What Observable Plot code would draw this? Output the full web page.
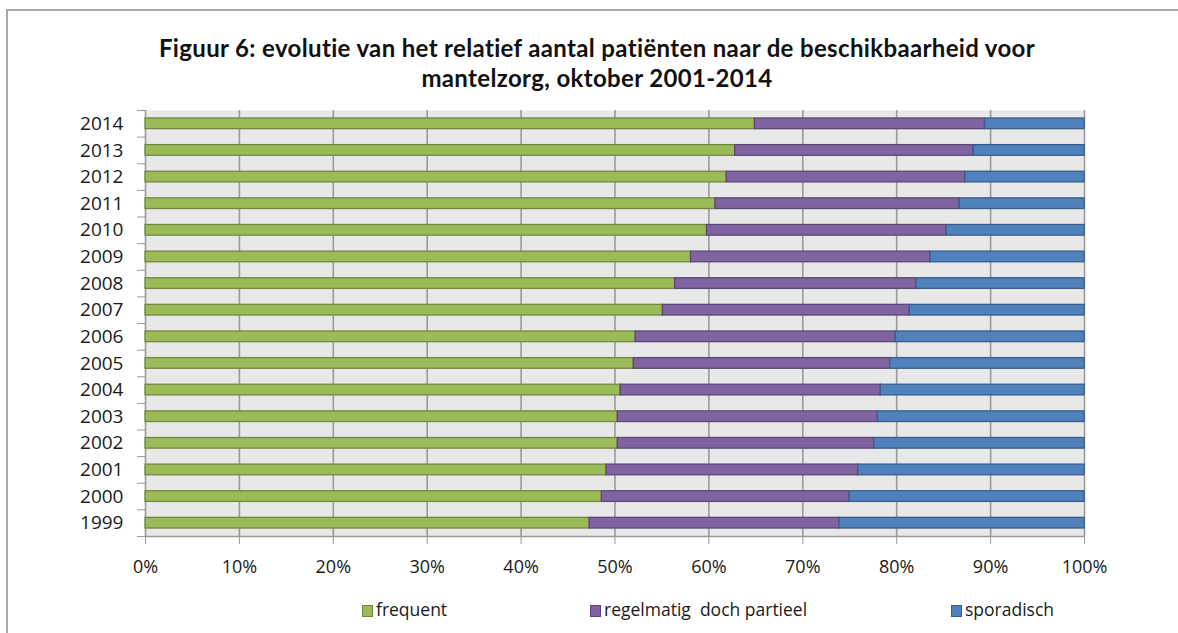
<!DOCTYPE html>
<html>
<head>
<meta charset="utf-8">
<script src="https://cdn.jsdelivr.net/npm/d3@7"></script>
<script src="https://cdn.jsdelivr.net/npm/@observablehq/plot@0.6"></script>
<style>
  html, body { margin: 0; padding: 0; background: #fff; overflow: hidden; }
  #wrap { position: relative; width: 1178px; height: 633px; overflow: hidden; }
  #frame { position: absolute; left: 6px; top: 9px; width: 1200px; height: 700px;
           border-top: 2px solid #a8a8a8; border-left: 2px solid #a8a8a8; }
  #title { position: absolute; left: 8px; top: 33px; width: 1178px; text-align: center;
           font-family: Lato, "Open Sans", sans-serif; font-weight: 700; font-size: 24px;
           letter-spacing: 0.35px; line-height: 30px; color: #111; }
  #chart { position: absolute; left: 0; top: 100px; }
  .leg { position: absolute; top: 597px; font-family: "Open Sans", sans-serif; font-size: 17.5px; color: #1a1a1a;
         white-space: nowrap; }
  .sw { display: inline-block; width: 9px; height: 10px; margin-right: 3px; vertical-align: -1px; border: 1px solid; }
</style>
</head>
<body>
<div id="wrap">
  <div id="frame"></div>
  <div id="title"></div>
  <div id="chart"></div>
  <div id="legend"></div>
</div>
<script>
const titleLines = ["Figuur 6: evolutie van het relatief aantal patiënten naar de beschikbaarheid voor", "mantelzorg, oktober 2001-2014"];
const years = [1999, 2000, 2001, 2002, 2003, 2004, 2005, 2006, 2007, 2008, 2009, 2010, 2011, 2012, 2013, 2014];
const seriesNames = ["frequent", "regelmatig  doch partieel", "sporadisch"];
const frequent   = [47.3, 48.6, 49.1, 50.3, 50.3, 50.6, 52.0, 52.2, 55.1, 56.4, 58.1, 59.8, 60.7, 61.9, 62.8, 64.9];
const regelmatig = [26.6, 26.4, 26.8, 27.3, 27.7, 27.7, 27.3, 27.7, 26.3, 25.7, 25.5, 25.5, 26.0, 25.4, 25.4, 24.5];
const sporadisch = [26.1, 25.0, 24.1, 22.4, 22.0, 21.7, 20.7, 20.1, 18.6, 17.9, 16.4, 14.7, 13.3, 12.7, 11.8, 10.6];
const xTicks = [0, 10, 20, 30, 40, 50, 60, 70, 80, 90, 100];
const fills   = ["#9bbb59", "#8064a2", "#4f81bd"];
const strokes = ["#71893f", "#5c4776", "#385d8a"];

document.getElementById("title").innerHTML = titleLines.join("<br>");

const seriesValues = [frequent, regelmatig, sporadisch];
const rowsBySeries = seriesValues.map(() => []);
years.forEach((year, i) => {
  let start = 0;
  seriesValues.forEach((vals, s) => {
    rowsBySeries[s].push({year, series: seriesNames[s], x1: start, x2: start + vals[i]});
    start += vals[i];
  });
});
const half = 0.2;
const boundaries = years.map(y => y - 0.5).concat([years[years.length - 1] + 0.5]);

const chart = Plot.plot({
  width: 1178,
  height: 490,
  marginLeft: 145,
  marginRight: 94,
  marginTop: 10,
  marginBottom: 54,
  x: {domain: [0, 100]},
  y: {domain: [years[0] - 0.5, years[years.length - 1] + 0.5]},
  style: {fontFamily: "'Open Sans', sans-serif", fontSize: "18px", color: "#1a1a1a", background: "transparent", overflow: "visible"},
  marks: [
    Plot.frame({fill: "#e8e8e8", stroke: null}),
    Plot.ruleX(xTicks, {stroke: "#9a9a9a", strokeWidth: 1.6, strokeOpacity: 1}),
    Plot.ruleY([years[0] - 0.5], {stroke: "#9a9a9a", strokeWidth: 1.6}),
    Plot.axisX(xTicks, {tickSize: 8, tickPadding: 16, stroke: "#9a9a9a", tickFormat: d => d + "%", fontSize: 18, fill: "#1a1a1a"}),
    Plot.axisY(years, {tickSize: 0, tickPadding: 22, tickFormat: d => String(d), fontSize: 19, fill: "#1a1a1a"}),
    Plot.axisY(boundaries, {tickSize: 8, stroke: "#9a9a9a", tickFormat: () => ""}),
    ...rowsBySeries.map((rows, s) => Plot.rectX(rows, {
      x1: "x1", x2: "x2",
      y1: d => d.year - half, y2: d => d.year + half,
      fill: fills[s], stroke: strokes[s], strokeWidth: 1.3
    }))
  ]
});
document.getElementById("chart").appendChild(chart);

const legendLefts = [362, 590, 951];
const legend = document.getElementById("legend");
seriesNames.forEach((name, s) => {
  const el = document.createElement("div");
  el.className = "leg";
  el.style.left = legendLefts[s] + "px";
  el.innerHTML = `<span class="sw" style="background:${fills[s]};border-color:${strokes[s]}"></span>${name.replace(/  /g, " &nbsp;")}`;
  legend.appendChild(el);
});
</script>
</body>
</html>
